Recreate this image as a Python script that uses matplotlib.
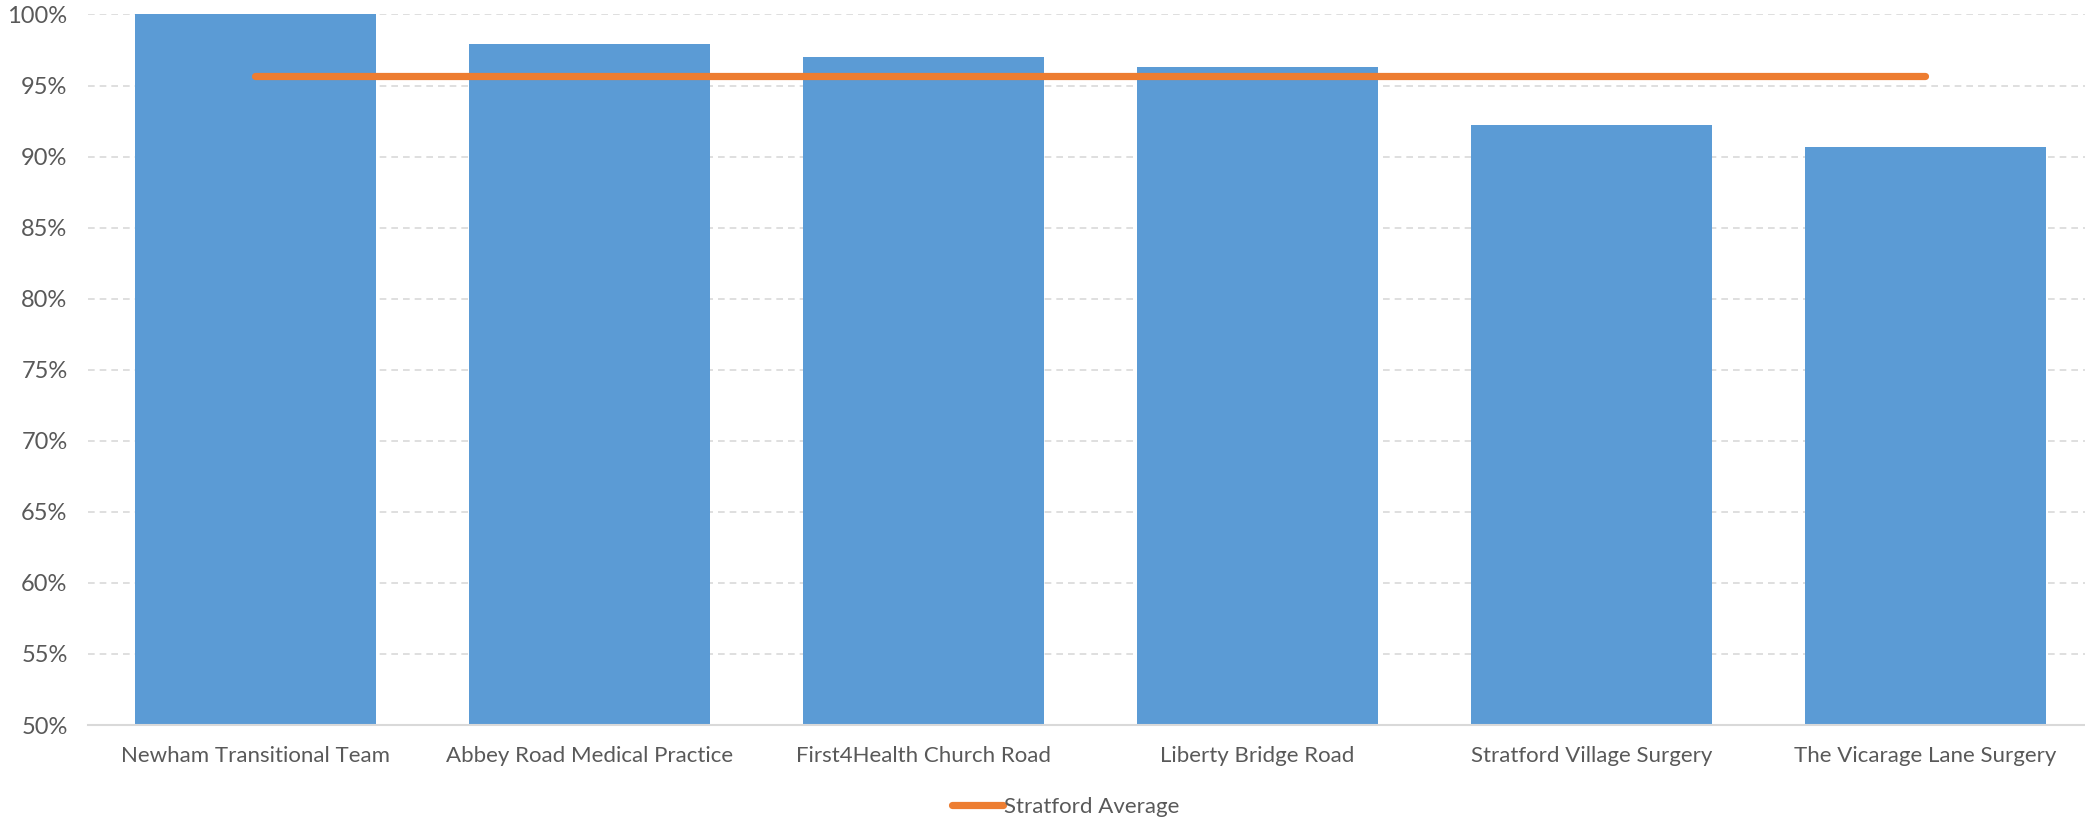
import matplotlib.pyplot as plt
from matplotlib.ticker import PercentFormatter

# data
practices = ["Newham Transitional Team", "Abbey Road Medical Practice",
             "First4Health Church Road", "Liberty Bridge Road",
             "Stratford Village Surgery", "The Vicarage Lane Surgery"]
practice_pct = [100.0, 97.9, 97.0, 96.3, 92.2, 90.7]
stratford_avg = [95.7, 95.7, 95.7, 95.7, 95.7, 95.7]

plt.rcParams['font.family'] = ['Lato', 'DejaVu Sans']
grey = "#595959"

fig = plt.figure(figsize=(20.85, 8.22), dpi=100)
ax = fig.add_axes([0.0424, 0.118, 0.9576, 0.8644])

x = range(len(practices))
ax.bar(x, practice_pct, width=0.72, color="#5B9BD5", zorder=2)
ax.plot(x, stratford_avg, color="#ED7D31", linewidth=5.2,
        solid_capstyle="round", label="Stratford Average", zorder=3)

ax.set_ylim(50, 100)
ax.set_xlim(-0.5, 5.478)
ax.set_yticks(range(50, 101, 5))
ax.yaxis.set_major_formatter(PercentFormatter(decimals=0))
ax.set_xticks(list(x))
ax.set_xticklabels(practices)
ax.tick_params(axis="both", length=0, colors=grey)
ax.tick_params(axis="x", pad=15, labelsize=16)
ax.tick_params(axis="y", pad=15, labelsize=17)

ax.grid(axis="y", color="#d9d9d9", linestyle=(0, (4, 3)), linewidth=1.2, zorder=0)
for s in ["top", "right", "left"]:
    ax.spines[s].set_visible(False)
ax.spines["bottom"].set_color("#d9d9d9")
ax.spines["bottom"].set_linewidth(1.5)

leg = fig.legend(loc="center", bbox_to_anchor=(0.511, 0.018), frameon=False,
                 fontsize=16, handlelength=2.3, handletextpad=0.05)
for t in leg.get_texts():
    t.set_color(grey)

fig.savefig("out.png", dpi=100)
